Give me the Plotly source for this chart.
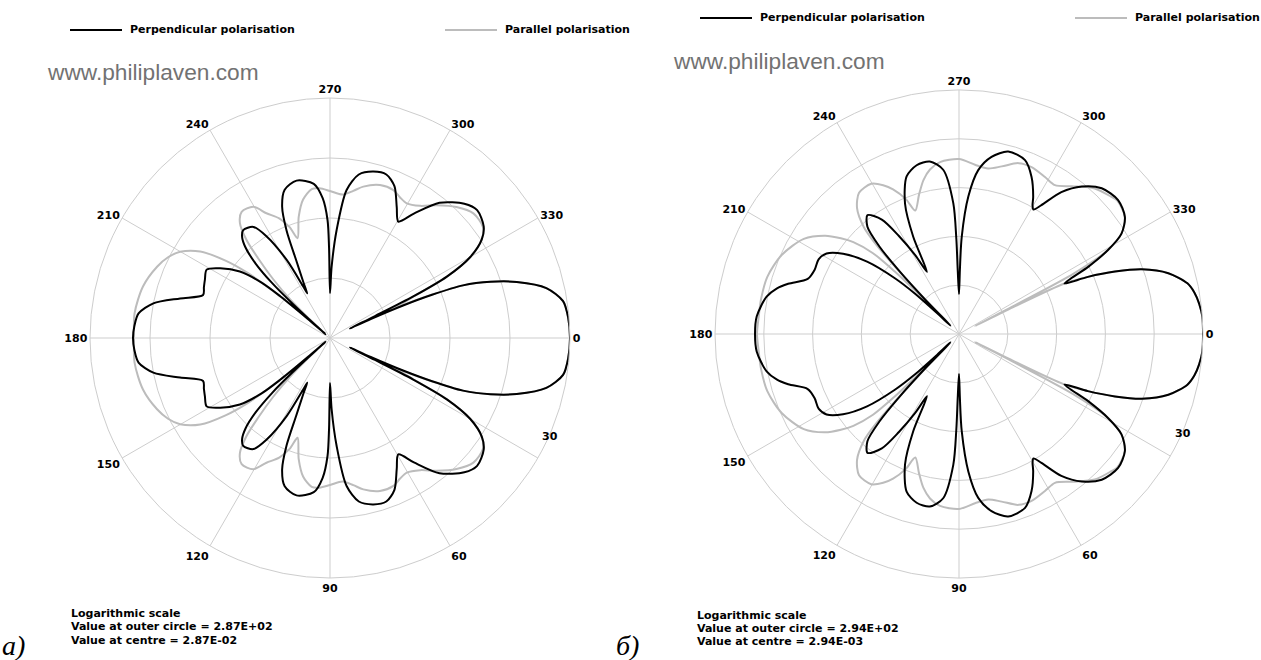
import math
import plotly.graph_objects as go

W, H = 1261, 660

# Scattering angle (degrees, 0-180) and scattered intensity, panel а
theta_perp_a = [0, 5, 9, 13, 16.7, 19.3, 21.6, 23, 24, 25, 25.5, 26, 26.5, 27.7, 30, 33, 36, 41, 45, 51,
                56, 59.6, 63, 67, 71, 75.4, 80, 83.6, 86.5, 88.7, 90, 90.6, 91.2, 93, 96, 102, 107, 110, 112, 113.5,
                115.5, 117, 117.5, 119, 122, 124.6, 128.8, 131, 133, 135, 136.5, 137.5, 138.3, 138.8, 139.3, 140, 141,
                143.6, 147.6, 151, 155, 158, 161.3, 165.2, 168.9, 172.7, 176.5, 180]
perp_a = [287, 276, 246, 144, 51.0, 19.6, 6.94, 1.96, 0.618, 0.161, 0.0668, 0.196, 1.02, 4.55, 14.4, 29.8, 42.1, 51.0, 42.1, 22.8,
          9.08, 5.10, 8.09, 16.1, 21.9, 21.1, 16.8, 8.73, 1.81, 0.438, 0.161, 0.908, 2.66, 6.18, 11.0, 13.8, 11.0, 6.18, 2.46, 0.749,
          0.310, 0.196, 0.266, 0.873, 2.87, 5.10, 5.84, 4.91, 3.35, 1.61, 0.618, 0.196, 0.0618, 0.0361, 0.0908, 0.348, 0.841,
          2.11, 4.21, 6.43, 5.73, 5.30, 4.91, 11.0, 28.7, 47.3, 53.0, 55.1]

theta_par_a = [0, 5, 9, 13, 16.7, 19.3, 21.6, 23, 24, 24.6, 25.3, 26.5, 27.7, 30, 33, 36, 41, 46, 51.3, 55.7,
               60.3, 63.5, 66.8, 71.9, 77.6, 81, 85, 90, 94, 97, 101, 104.5, 108, 110, 113, 117, 120.3, 125, 128.1, 130.4,
               132, 134, 136, 137.5, 138.5, 139.5, 140.5, 141.7, 143.5, 146.3, 150.1, 153.5, 157.6, 164.6, 172.8, 180]
par_a = [287, 276, 246, 144, 51.0, 19.6, 6.94, 2.11, 0.841, 0.455, 0.573, 1.10, 4.55, 14.4, 29.8, 40.5, 42.1, 31.0, 19.6, 13.3,
         11.0, 11.9, 13.8, 13.8, 11.0, 8.73, 7.21, 8.09, 9.08, 9.08, 6.43, 3.48, 1.61, 2.66, 4.21, 6.18, 9.80, 10.6, 7.78, 4.05,
         1.81, 0.668, 0.237, 0.0841, 0.0390, 0.133, 0.510, 1.61, 4.21, 11.4, 21.9, 29.8, 37.6, 49.1, 55.1, 53.0]

# Panel б
theta_perp_b = [0, 4, 7.2, 10, 12.5, 16.2, 19.5, 21.8, 23.9, 25.6, 27.5, 29.4, 31.7, 35.2, 40.1, 45.6, 50.2, 54.2, 57.4, 59.1,
                60.2, 61.6, 65.2, 69.2, 74.9, 79.6, 83.3, 86.1, 88.4, 89.2, 90, 91.1, 91.6, 92.5, 95.5, 99.6, 104.1, 108.4,
                112.5, 115.2, 117.2, 119, 121.5, 124, 127.6, 130.5, 132.3, 133.5, 134.6, 135.5, 136.5, 137.5, 139, 141.8,
                145.3, 148.7, 152, 156, 160, 163.6, 166, 169, 175, 180]
perp_b = [294, 294, 268, 232, 183, 86.2, 27.8, 8.15, 2.28, 0.734, 2.88, 9.39, 24.1, 42.5, 53.8, 44.5, 25.3, 11.3, 4.01, 2.75,
          3.17, 4.62, 10.3, 19.0, 21.9, 14.4, 7.07, 1.98, 0.286, 0.0602, 0.0194, 0.0548, 0.260, 1.42, 7.07, 11.3, 10.8, 7.41,
          2.28, 0.469, 0.0799, 0.205, 0.668, 1.98, 3.48, 2.28, 0.770, 0.162, 0.0246, 0.00518, 0.0121, 0.0498, 0.162, 0.734,
          2.28, 4.41, 5.33, 5.08, 5.85, 13.1, 20.9, 30.5, 42.5, 44.5]

theta_par_b = [0, 4, 7.2, 10, 12.5, 16.2, 19.5, 21.8, 23.9, 25.6, 26.4, 26.8, 27.2, 27.8, 29.4, 31.7, 35.2, 40.1, 42, 47,
               52.6, 57.2, 61.3, 66.5, 70.8, 75.7, 80, 84.6, 90, 96.3, 100, 103, 106, 109.5, 111.5, 114.5, 117, 120.3,
               125.3, 129, 131.7, 132.7, 133.5, 134.3, 134.7, 135.2, 135.8, 136.8, 139, 141, 143.7, 148.5, 155.9, 163.4,
               170, 175, 180]
par_b = [294, 294, 268, 232, 183, 86.2, 27.8, 8.15, 2.28, 0.734, 0.0498, 0.00688, 0.0498, 1.36, 9.39, 24.1, 42.5, 51.3, 46.7, 35.2,
         19.0, 12.5, 13.7, 15.8, 15.0, 10.3, 8.15, 8.95, 11.3, 10.3, 7.77, 5.08, 2.75, 1.42, 2.75, 5.33, 7.77, 10.8,
         10.3, 6.14, 2.50, 1.07, 0.260, 0.0194, 0.00518, 0.0311, 0.205, 0.770, 2.17, 3.83, 7.41, 15.8, 27.8, 36.9,
         38.7, 38.7, 40.5]

# Logarithmic radial scale of each panel
outer_a, centre_a = 287.0, 0.0287
outer_b, centre_b = 294.0, 0.00294

angle_ticks = list(range(0, 360, 30))
# the "30" label sits nudged up towards the 0 axis, clear of the 30 spoke
shifted_labels = {30: 24}

BLACK = "#000000"
GREY = "#bcbcbc"
GRID = "#cdcdcd"
LABEL_FONT = dict(family="DejaVu Sans", size=11, color="#000000", weight="bold")


def px(x):
    return x / W


def py(y):
    return 1 - y / H


def full_circle(theta, vals):
    """Pattern is symmetric about the 0-180 axis: mirror the half-plane data."""
    t = list(theta) + [360 - a for a in theta[-2::-1]]
    v = list(vals) + list(vals[-2::-1])
    return t, v


def polar_axes(cx, cy, radius, centre, outer):
    lo, hi = math.log10(centre), math.log10(outer)
    decades = round(hi - lo)
    return dict(
        domain=dict(x=[px(cx - radius), px(cx + radius)], y=[py(cy + radius), py(cy - radius)]),
        bgcolor="white",
        radialaxis=dict(type="log", range=[lo, hi],
                        tickvals=[centre * 10 ** k for k in range(1, decades + 1)],
                        showticklabels=False, ticks="", showline=False,
                        gridcolor=GRID, gridwidth=1),
        angularaxis=dict(rotation=0, direction="clockwise",
                         tickvals=angle_ticks,
                         ticktext=["" if a in shifted_labels else str(a) for a in angle_ticks],
                         tickfont=LABEL_FONT, ticks="",
                         showline=True, linecolor=GRID, linewidth=1,
                         gridcolor=GRID, gridwidth=1),
    )


fig = go.Figure()

panels = [
    ("polar", theta_perp_a, perp_a, theta_par_a, par_a),
    ("polar2", theta_perp_b, perp_b, theta_par_b, par_b),
]
for subplot, tpe, pe, tpa, pa in panels:
    t, r = full_circle(tpa, pa)
    fig.add_trace(go.Scatterpolar(theta=t, r=r, mode="lines", subplot=subplot,
                                  name="Parallel polarisation", showlegend=False,
                                  line=dict(color=GREY, width=2, shape="spline", smoothing=0.8)))
    t, r = full_circle(tpe, pe)
    fig.add_trace(go.Scatterpolar(theta=t, r=r, mode="lines", subplot=subplot,
                                  name="Perpendicular polarisation", showlegend=False,
                                  line=dict(color=BLACK, width=2, shape="spline", smoothing=0.8)))

annotations = []
shapes = []


def text(x, y, s, font, xanchor="left"):
    annotations.append(dict(x=px(x), y=py(y), xref="paper", yref="paper", text=s, showarrow=False,
                            xanchor=xanchor, yanchor="middle", font=font))


def legend_row(y, x_perp, x_par):
    for x0, colour, label in ((x_perp, BLACK, "Perpendicular polarisation"),
                              (x_par, GREY, "Parallel polarisation")):
        shapes.append(dict(type="line", xref="paper", yref="paper", x0=px(x0), x1=px(x0 + 52),
                           y0=py(y), y1=py(y), line=dict(color=colour, width=2)))
        text(x0 + 58, y, label, LABEL_FONT)


def shifted_angle_labels(cx, cy, radius):
    for label, ang in shifted_labels.items():
        a = math.radians(ang)
        text(cx + (radius + 1) * math.cos(a), cy + (radius + 1) * math.sin(a), str(label),
             LABEL_FONT, xanchor="center")


WATERMARK = dict(family="Liberation Sans", size=22.7, color="#727272")
ITALIC = dict(family="Liberation Serif", size=28, color="#000000", style="italic")

# panel а
legend_row(30, 70, 445)
text(45, 72, "www.philiplaven.com", WATERMARK)
text(69, 613, "Logarithmic scale", LABEL_FONT)
text(69, 626, f"Value at outer circle = {outer_a:.2E}", LABEL_FONT)
text(69, 640, f"Value at centre = {centre_a:.2E}", LABEL_FONT)
text(0, 645, "а)", ITALIC)
shifted_angle_labels(330, 338, 240)

# panel б
legend_row(18, 700, 1075)
text(671, 61, "www.philiplaven.com", WATERMARK)
text(695, 615, "Logarithmic scale", LABEL_FONT)
text(695, 628, f"Value at outer circle = {outer_b:.2E}", LABEL_FONT)
text(695, 641, f"Value at centre = {centre_b:.2E}", LABEL_FONT)
text(614, 645, "б)", ITALIC)
shifted_angle_labels(959, 334, 244)

fig.update_layout(
    width=W, height=H,
    margin=dict(l=0, r=0, t=0, b=0),
    paper_bgcolor="white",
    plot_bgcolor="white",
    showlegend=False,
    polar=polar_axes(330, 338, 240, centre_a, outer_a),
    polar2=polar_axes(959, 334, 244, centre_b, outer_b),
    annotations=annotations,
    shapes=shapes,
)

fig.write_html("out.html")
